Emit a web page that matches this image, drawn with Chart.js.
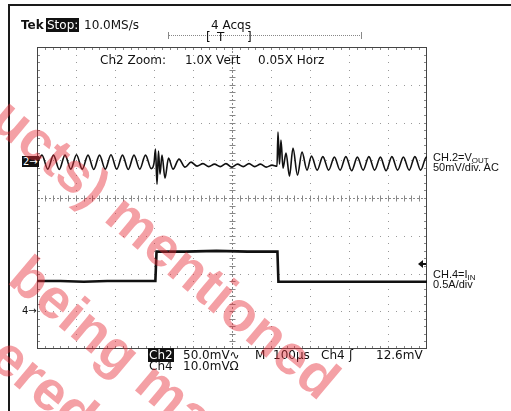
<!DOCTYPE html>
<html lang="en">
<head>
<meta charset="UTF-8">
<title>Load step: VOUT and IIN</title>
<script src="https://cdn.jsdelivr.net/npm/chart.js"></script>
<style>
  body { margin: 0; width: 511px; height: 411px; overflow: hidden; position: relative; background: #fff; color: #111; font-family: 'DejaVu Sans', sans-serif; }
  #wrap { position: absolute; left: 0; top: 0; width: 511px; height: 411px; }
  .t { position: absolute; font-size: 12px; line-height: 12px; white-space: nowrap; }
  .inv { background: #111; color: #fff; padding: 0 1px; }
  .lbl { position: absolute; left: 433px; font-family: 'Liberation Sans', Arial, sans-serif; font-size: 11px; line-height: 10px; white-space: nowrap; }
  .lbl sub { font-size: 8px; vertical-align: -2px; line-height: 0; }
  .frame { position: absolute; background: #1a1a1a; }
  .wm { position: absolute; font-family: 'Liberation Sans', Arial, sans-serif; font-weight: bold; font-size: 56px; line-height: 56px;
        color: rgba(230, 45, 55, 0.45); transform-origin: 0 0; transform: rotate(40deg); white-space: nowrap; }
</style>
</head>
<body>
<div id="wrap"><canvas id="scope"></canvas></div>

<div class="frame" style="left:8px;top:4px;width:503px;height:2px"></div>
<div class="frame" style="left:8px;top:4px;width:2px;height:407px"></div>

<div class="t" style="left:21px;top:19px;font-weight:bold">Tek</div>
<div class="t" style="left:46px;top:19px"><span class="inv">Stop:</span></div>
<div class="t" style="left:84px;top:19px">10.0MS/s</div>
<div class="t" style="left:211px;top:19px">4 Acqs</div>
<div style="position:absolute;left:168px;top:35px;width:194px;border-top:1px dotted #888"></div>
<div style="position:absolute;left:168px;top:32px;width:1px;height:7px;background:#888"></div>
<div style="position:absolute;left:361px;top:32px;width:1px;height:7px;background:#888"></div>
<div class="t" style="left:206px;top:31px">[</div>
<div class="t" style="left:217px;top:31px">T</div>
<div class="t" style="left:247px;top:31px">]</div>
<div class="t" style="left:100px;top:54px">Ch2 Zoom:</div>
<div class="t" style="left:185px;top:54px">1.0X Vert</div>
<div class="t" style="left:258px;top:54px">0.05X Horz</div>

<div class="lbl" style="top:152px">CH.2=V<sub>OUT</sub><br>50mV/div. AC</div>
<div class="lbl" style="top:269px">CH.4=I<sub>IN</sub><br>0.5A/div</div>

<div id="mark2" class="t" style="left:22px;font-size:10px;line-height:11px"><span class="inv">2→</span></div>
<div id="mark4" class="t" style="left:22px;font-size:10px;line-height:11px">4→</div>

<div class="t" style="left:148px;top:349px"><span class="inv">Ch2</span></div>
<div class="t" style="left:183px;top:349px">50.0mV∿</div>
<div class="t" style="left:255px;top:349px">M</div>
<div class="t" style="left:273px;top:349px">100µs</div>
<div class="t" style="left:321px;top:349px">Ch4</div>
<div class="t" style="left:349px;top:349px">ʃ</div>
<div class="t" style="left:376px;top:349px">12.6mV</div>
<div class="t" style="left:149px;top:360px">Ch4</div>
<div class="t" style="left:183px;top:360px">10.0mVΩ</div>

<div class="wm" style="left:18px;top:88px">ucts) mentioned</div>
<div class="wm" style="left:36px;top:246px">being ma</div>
<div class="wm" style="left:17px;top:326px">ered</div>

<script>
// scope settings
const TIME_PER_DIV = 100;   // µs
const CH2_PER_DIV = 50;     // mV
const CH2_POS = 0.95;       // divisions above centre
const CH4_PER_DIV = 0.5;    // A
const CH4_POS = -3.0;
const TRIG_LEVEL = 0.62;    // A on ch4

// CH2 = VOUT, AC coupled (mV)
const ch2Time = [
  0, 12.8, 27.6, 42.3, 57.1, 71.8, 86.6, 101.3, 116.0, 130.8, 145.5, 160.3, 175.0, 189.7, 204.5, 219.2, 234.0, 248.7, 263.5, 278.2, 293.0,
  300.0, 303.8, 307.7, 311.5, 315.4, 320.5, 328.2, 337.2, 348.7, 364.1, 379.5, 394.9, 410.3,
  425.6, 440.4, 455.1, 469.9, 484.6, 499.4, 514.1, 528.8, 543.6, 558.3, 573.1, 587.8, 602.6,
  615.4, 617.9, 621.8, 625.6, 630.8, 638.5, 647.4, 656.4, 667.9, 679.5, 692.3, 703.8,
  718.4, 733.0, 747.8, 762.5, 777.2, 792.0, 806.7, 821.5, 836.2, 851.0, 865.7, 880.5, 895.2, 910.0, 924.7, 939.5, 954.2, 969.0, 983.7, 998.5, 1000
];
const ch2Mv = [
  -2, 9.3, -9.3, 9.3, -9.8, 9.3, -9.3, 9.8, -9.3, 9.3, -9.8, 9.3, -9.3, 9.8, -9.3, 9.3, -9.8, 9.3, -9.3, 9.3, -8.6,
  -1.3, 17.2, -29.1, 14.6, -15.9, 9.3, -21.2, 5.3, -9.3, 4.0, -6.6, 0, -5.3,
  -2.0, -6.0, -2.6, -6.0, -2.0, -6.6, -2.6, -6.0, -2.0, -6.0, -2.6, -6.6, -4.0,
  -5.3, 39.7, -2.6, 29.1, -7.9, 11.9, -18.5, 18.5, -17.2, 13.2, -10.6, 8.0,
  -10.6, 7.3, -10.6, 6.6, -10.6, 7.3, -11.3, 6.6, -10.6, 7.3, -10.6, 6.6, -11.3, 7.3, -10.6, 6.6, -10.6, 7.3, -10.6, 6.6, 6.0
];

// CH4 = IIN (A)
const ch4Time = [0, 60, 120, 180, 240, 303.5, 306.5, 380, 460, 540, 616.5, 619, 700, 800, 900, 1000];
const ch4Amp = [0.40, 0.40, 0.39, 0.40, 0.40, 0.40, 0.79, 0.79, 0.80, 0.79, 0.79, 0.39, 0.39, 0.39, 0.39, 0.39];

const ch2Pts = ch2Time.map((t, i) => ({ x: t, y: ch2Mv[i] }));
const ch4Pts = ch4Time.map((t, i) => ({ x: t, y: ch4Amp[i] }));

const graticule = {
  id: 'graticule',
  beforeDatasetsDraw(chart) {
    const { ctx, chartArea: a } = chart;
    const dx = (a.right - a.left) / 10, dy = (a.bottom - a.top) / 8;
    ctx.save();
    ctx.fillStyle = '#999';
    for (let i = 1; i < 10; i++) {
      if (i === 5) continue;
      const x = Math.round(a.left + i * dx);
      for (let j = 1; j < 40; j++) ctx.fillRect(x, Math.round(a.top + j * dy / 5), 1, 1);
    }
    for (let i = 1; i < 8; i++) {
      if (i === 4) continue;
      const y = Math.round(a.top + i * dy);
      for (let j = 1; j < 50; j++) ctx.fillRect(Math.round(a.left + j * dx / 5), y, 1, 1);
    }
    // centre cross with minor ticks
    const cx = Math.round(a.left + 5 * dx) + 0.5, cy = Math.round(a.top + 4 * dy) + 0.5;
    ctx.strokeStyle = '#888';
    ctx.lineWidth = 1;
    ctx.setLineDash([2, 2]);
    ctx.beginPath();
    ctx.moveTo(a.left, cy); ctx.lineTo(a.right, cy);
    ctx.moveTo(cx, a.top); ctx.lineTo(cx, a.bottom);
    ctx.stroke();
    ctx.setLineDash([]);
    ctx.beginPath();
    for (let j = 1; j < 50; j++) {
      const x = Math.round(a.left + j * dx / 5) + 0.5;
      ctx.moveTo(x, cy - 3); ctx.lineTo(x, cy + 3);
      ctx.moveTo(x, a.top); ctx.lineTo(x, a.top + 3);
      ctx.moveTo(x, a.bottom); ctx.lineTo(x, a.bottom - 3);
    }
    for (let j = 1; j < 40; j++) {
      const y = Math.round(a.top + j * dy / 5) + 0.5;
      ctx.moveTo(cx - 3, y); ctx.lineTo(cx + 3, y);
      ctx.moveTo(a.left, y); ctx.lineTo(a.left + 3, y);
      ctx.moveTo(a.right, y); ctx.lineTo(a.right - 3, y);
    }
    ctx.stroke();
    ctx.strokeStyle = '#444';
    ctx.strokeRect(a.left + 0.5, a.top + 0.5, a.right - a.left - 1, a.bottom - a.top - 1);
    ctx.restore();
  },
  afterDatasetsDraw(chart) {
    const { ctx, chartArea: a } = chart;
    const y = Math.round(chart.scales.y4.getPixelForValue(TRIG_LEVEL));
    ctx.save();
    ctx.fillStyle = '#111';
    ctx.beginPath();
    ctx.moveTo(a.right - 9, y);
    ctx.lineTo(a.right - 4, y - 4);
    ctx.lineTo(a.right - 4, y + 4);
    ctx.closePath();
    ctx.fill();
    ctx.fillRect(a.right - 5, y - 1, 4, 2);
    ctx.restore();
  }
};

const chart = new Chart(document.getElementById('scope'), {
  type: 'line',
  data: {
    datasets: [
      { label: 'CH2 VOUT', data: ch2Pts, yAxisID: 'y2', borderColor: '#111', borderWidth: 1.6,
        pointRadius: 0, cubicInterpolationMode: 'monotone' },
      { label: 'CH4 IIN', data: ch4Pts, yAxisID: 'y4', borderColor: '#111', borderWidth: 2.6,
        pointRadius: 0, tension: 0 }
    ]
  },
  options: {
    responsive: true,
    maintainAspectRatio: false,
    animation: false,
    events: [],
    layout: { padding: { left: 37, right: 84, top: 47, bottom: 62 } },
    plugins: { legend: { display: false }, tooltip: { enabled: false } },
    scales: {
      x: { type: 'linear', min: 0, max: 10 * TIME_PER_DIV, display: false },
      y2: { type: 'linear', min: (-4 - CH2_POS) * CH2_PER_DIV, max: (4 - CH2_POS) * CH2_PER_DIV, display: false },
      y4: { type: 'linear', min: (-4 - CH4_POS) * CH4_PER_DIV, max: (4 - CH4_POS) * CH4_PER_DIV, display: false }
    }
  },
  plugins: [graticule]
});

// ground markers follow the channel offsets
document.getElementById('mark2').style.top = (chart.scales.y2.getPixelForValue(0) - 6) + 'px';
document.getElementById('mark4').style.top = (chart.scales.y4.getPixelForValue(0) - 6) + 'px';
</script>
</body>
</html>
